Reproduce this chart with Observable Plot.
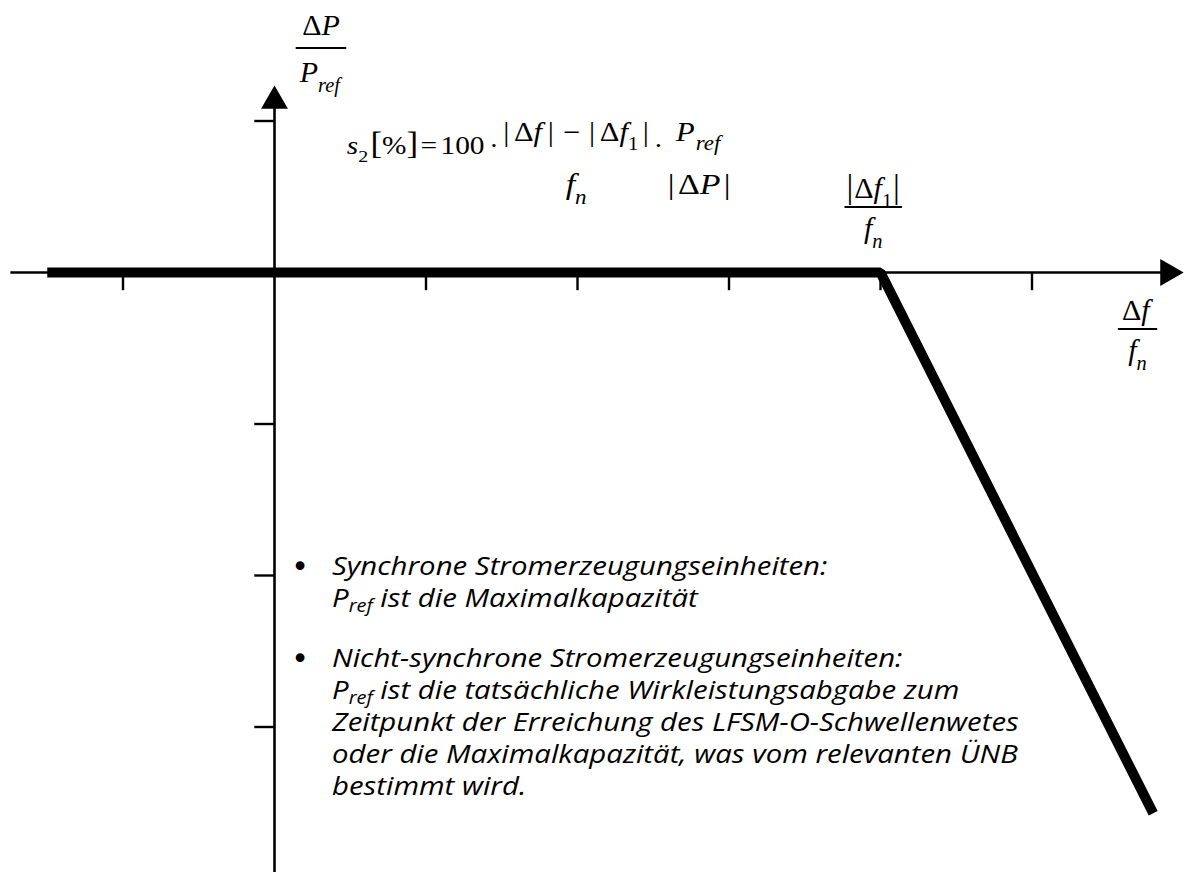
<!DOCTYPE html>
<html>
<head>
<meta charset="utf-8">
<script src="https://cdn.jsdelivr.net/npm/d3@7"></script>
<script src="https://cdn.jsdelivr.net/npm/@observablehq/plot@0.6"></script>
<style>
  html, body { margin: 0; padding: 0; background: #fff; }
  #chart svg { display: block; }
</style>
</head>
<body>
<div id="chart"></div>
<script>
// LFSM-O characteristic: power change ΔP/Pref versus frequency deviation Δf/fn
const curveX = [-1.5, 4, 5.8];
const curveY = [0, 0, -3.57];

// axis extents, tick positions and arrowhead positions (data units)
const xDomain = [-1.8086, 6.0594];
const yDomain = [-3.9604, 1.7954];
const xAxisSpan = [-1.74, 5.88];
const yAxisSpan = [-3.97, 1.12];
const xTicks = [-1, 1, 2, 3, 4, 5];
const yTicks = [1, -1, -2, -3];
const xArrow = 5.898;
const yArrow = 1.132;

// annotation anchors (data units)
const yLabelAt = [0.31, 1.479];
const f1LabelAt = [3.955, 0.429];
const xLabelAt = [5.70, -0.376];
const formulaAt = [0.48, 0.779];
const notesAt = [0.383, -2.0];
const bulletX = 0.172;

// note texts: each line is a list of [text, subscript?] pieces
const notes = [
  [
    [["Synchrone Stromerzeugungseinheiten:"]],
    [["P"], ["ref", true], [" ist die Maximalkapazität"]]
  ],
  [
    [["Nicht-synchrone Stromerzeugungseinheiten:"]],
    [["P"], ["ref", true], [" ist die tatsächliche Wirkleistungsabgabe zum"]],
    [["Zeitpunkt der Erreichung des LFSM-O-Schwellenwetes"]],
    [["oder die Maximalkapazität, was vom relevanten ÜNB"]],
    [["bestimmt wird."]]
  ]
];

const curve = curveX.map((x, i) => ({x, y: curveY[i]}));

const svg = Plot.plot({
  width: 1192,
  height: 872,
  margin: 0,
  style: {background: "#fff", overflow: "visible"},
  x: {domain: xDomain, axis: null},
  y: {domain: yDomain, axis: null},
  marks: [
    Plot.ruleY([0], {x1: xAxisSpan[0], x2: xAxisSpan[1], stroke: "#000", strokeWidth: 2.6}),
    Plot.ruleX([0], {y1: yAxisSpan[0], y2: yAxisSpan[1], stroke: "#000", strokeWidth: 2.6}),
    Plot.ruleX(xTicks, {x: d => d, y1: 0, y2: -0.12, stroke: "#000", strokeWidth: 2.4}),
    Plot.ruleY(yTicks, {y: d => d, x1: -0.13, x2: 0, stroke: "#000", strokeWidth: 2.4}),
    Plot.dot([0], {x: xArrow, y: 0, symbol: "triangle", r: 10, fill: "#000", rotate: 90}),
    Plot.dot([0], {x: 0, y: yArrow, symbol: "triangle", r: 10, fill: "#000"}),
    Plot.line(curve, {x: "x", y: "y", stroke: "#000", strokeWidth: 10,
      strokeLinejoin: "miter", strokeLinecap: "butt"})
  ]
});
document.getElementById("chart").appendChild(svg);

const sx = svg.scale("x"), sy = svg.scale("y");
const X = v => sx.apply(v), Y = v => sy.apply(v);
const layer = d3.select(svg).append("g").attr("text-anchor", "start");

const MATH = "'Liberation Serif', 'DejaVu Serif', serif";
const PROSE = "'Open Sans', Lato, sans-serif";
const STRETCH = 1.13; // horizontal stretch of the formula and notes

// a math run: {t, i: italic, sub: subscript, size, dx}
function mathText(parent, x, y, runs, size, subScale = 0.68) {
  const t = parent.append("text")
    .attr("x", x).attr("y", y).attr("text-anchor", "start")
    .attr("font-family", MATH).attr("font-size", size).attr("fill", "#000");
  let shift = 0;
  for (const r of runs) {
    const ts = t.append("tspan").text(r.t).attr("font-style", r.i ? "italic" : "normal");
    const target = r.sub ? size * 0.32 : 0;
    if (target !== shift) { ts.attr("dy", target - shift); shift = target; }
    if (r.sub) ts.attr("font-size", size * subScale);
    if (r.size) ts.attr("font-size", r.size);
    if (r.dx) ts.attr("dx", r.dx);
  }
  return t;
}

// centre a text's ink horizontally on cx; returns its ink width
function centre(sel, cx) {
  const b = sel.node().getBBox();
  sel.attr("x", cx - (b.x + b.width / 2));
  return b.width;
}

// stacked fraction centred on cx, with its bar at barY
function fraction(parent, cx, barY, num, den, o) {
  const a = mathText(parent, 0, barY - o.up, num, o.numSize || o.size, o.subScale);
  const b = mathText(parent, 0, barY + o.down, den, o.denSize || o.size, o.subScale);
  const w = Math.max(centre(a, cx), centre(b, cx));
  if (o.bar) {
    parent.append("line")
      .attr("x1", cx - w / 2 - o.pad).attr("x2", cx + w / 2 + o.pad)
      .attr("y1", barY).attr("y2", barY)
      .attr("stroke", "#000").attr("stroke-width", o.bar);
  }
  return w;
}

// axis labels
fraction(layer, X(yLabelAt[0]), Y(yLabelAt[1]),
  [{t: "Δ"}, {t: "P", i: true}],
  [{t: "P", i: true}, {t: "ref", i: true, sub: true}],
  {size: 30, up: 13, down: 34, bar: 2, pad: 3});

fraction(layer, X(f1LabelAt[0]), Y(f1LabelAt[1]),
  [{t: "|", size: 34}, {t: "Δ", dx: 1}, {t: "f", i: true}, {t: "1", sub: true}, {t: "|", size: 34, dx: 1}],
  [{t: "f", i: true}, {t: "n", i: true, sub: true}],
  {size: 30, up: 9, down: 31, bar: 2, pad: 2});

fraction(layer, X(xLabelAt[0]), Y(xLabelAt[1]),
  [{t: "Δ"}, {t: "f", i: true}],
  [{t: "f", i: true}, {t: "n", i: true, sub: true}],
  {size: 30, up: 9, down: 31, bar: 2, pad: 4});

// slope formula laid out left to right
(function formula() {
  const size = 26;
  const g = layer.append("g")
    .attr("transform", `translate(${X(formulaAt[0])},${Y(formulaAt[1])}) scale(${STRETCH},1)`);
  let x = 0;
  const run = (runs, gap = 0) => {
    const t = mathText(g, x, 0, runs, size);
    const b = t.node().getBBox();
    x = b.x + b.width + gap;
  };
  const frac = (num, den, o, gap) => {
    const f = g.append("g");
    const w = fraction(f, 0, 0, num, den, o);
    f.attr("transform", `translate(${x + w / 2},0)`);
    x += w + gap;
  };
  run([{t: "s", i: true}, {t: "2", sub: true}], 2);
  run([{t: "[", size: 31}, {t: "%"}, {t: "]", size: 31}], 2);
  run([{t: "="}], 3);
  run([{t: "100"}], 4);
  run([{t: "·"}], 4);
  frac([{t: "|"}, {t: "Δ", dx: 4}, {t: "f", i: true}, {t: "|", dx: 5},
        {t: "−", dx: 8}, {t: "|", dx: 8}, {t: "Δ", dx: 4}, {t: "f", i: true},
        {t: "1", sub: true}, {t: "|", dx: 4}],
       [{t: "f", i: true}, {t: "n", i: true, sub: true}],
       {numSize: 27, denSize: 30, up: 13, down: 40}, 4);
  run([{t: "·"}], 4);
  frac([{t: "P", i: true}, {t: "ref", i: true, sub: true, dx: 1}],
       [{t: "|"}, {t: "Δ", dx: 3}, {t: "P", i: true}, {t: "|", dx: 3}],
       {numSize: 27, denSize: 30, up: 13, down: 40, subScale: 0.75}, 0);
})();

// explanatory notes
(function drawNotes() {
  const size = 26, lineH = 32, paraGap = 28;
  let y = Y(notesAt[1]);
  const x = X(notesAt[0]);
  for (const para of notes) {
    layer.append("text").attr("x", X(bulletX)).attr("y", y + 2)
      .attr("font-family", "'DejaVu Sans', sans-serif").attr("font-size", 30)
      .attr("text-anchor", "middle").attr("fill", "#000").text("•");
    para.forEach((line, li) => {
      const t = layer.append("text").attr("x", 0).attr("y", 0)
        .attr("transform", `translate(${x},${y + li * lineH}) scale(${STRETCH},1)`)
        .attr("text-anchor", "start")
        .attr("font-family", PROSE).attr("font-style", "italic")
        .attr("font-size", size).attr("fill", "#000");
      let shifted = false;
      for (const [s, sub] of line) {
        const ts = t.append("tspan").text(s);
        if (sub && !shifted) { ts.attr("dy", 5).attr("font-size", size * 0.68); shifted = true; }
        else if (!sub && shifted) { ts.attr("dy", -5); shifted = false; }
      }
    });
    y += para.length * lineH + paraGap;
  }
})();
</script>
</body>
</html>
